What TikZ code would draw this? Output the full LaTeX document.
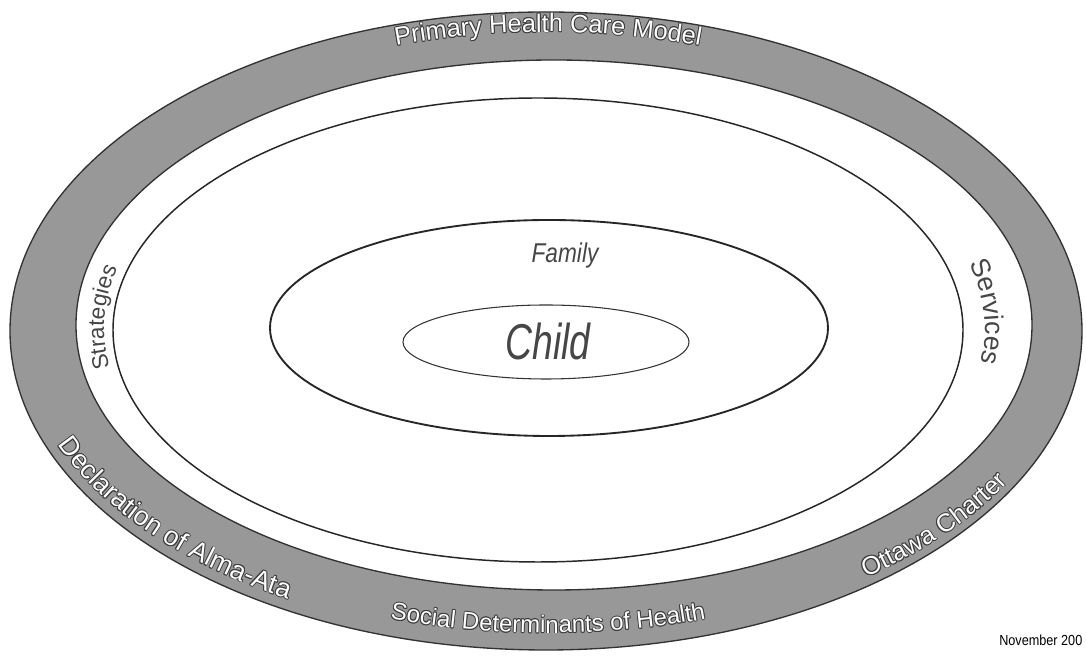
\documentclass[tikz,border=0pt]{standalone}
\usepackage{fontspec}
\setmainfont{Liberation Sans}
\usetikzlibrary{decorations.text}
\definecolor{bandgray}{RGB}{152,152,152}
\definecolor{edge}{RGB}{50,50,50}
\definecolor{outl}{RGB}{60,60,60}
\definecolor{ink}{RGB}{70,70,70}
% #1 centre, #2 rx, #3 ry, #4 start angle, #5 end angle, #6 font, #7 text
\newcommand\arclabel[7]{%
 \foreach \dx/\dy in {-0.9/0,0.9/0,0/-0.9,0/0.9,-0.65/-0.65,0.65/0.65,-0.65/0.65,0.65/-0.65}{%
  \path[shift={(\dx,\dy)},decorate,decoration={text along path,text align=center,text color=outl,text={|#6|#7}}] #1 ++(#4:#2 and #3) arc[start angle=#4,end angle=#5,x radius=#2,y radius=#3];}%
 \path[decorate,decoration={text along path,text align=center,text color=white,text={|#6|#7}}] #1 ++(#4:#2 and #3) arc[start angle=#4,end angle=#5,x radius=#2,y radius=#3];%
}
\newcommand\ringlabel[7]{%
 \path[decorate,decoration={text along path,text align=center,text color=ink,text={|#6|#7}}] #1 ++(#4:#2 and #3) arc[start angle=#4,end angle=#5,x radius=#2,y radius=#3];%
}
\begin{document}
\begin{tikzpicture}[x=0.75pt,y=0.75pt,
  bandline/.style={draw=edge,line width=1pt},
  ringline/.style={draw=black!85,line width=1.1pt},
  famline/.style={draw=black!85,line width=1.4pt},
  childline/.style={draw=black!80,line width=0.8pt},
  centretext/.style={text=ink,inner sep=0pt}]
\useasboundingbox (0,0) rectangle (1086,656);
\fill[white] (0,0) rectangle (1086,656);
% gray band
\fill[bandgray,even odd rule] (546,325) ellipse[x radius=536,y radius=319]
  (554,331) ellipse[x radius=478,y radius=265];
\draw[bandline] (546,325) ellipse[x radius=536,y radius=319];
\draw[bandline] (554,331) ellipse[x radius=478,y radius=265];
% ring line
\draw[ringline] (538,326) ellipse[x radius=425,y radius=232];
% family and child
\draw[famline] (549,328) ellipse[x radius=279,y radius=108];
\draw[childline] (546,314) ellipse[x radius=143,y radius=37];
\node[centretext,font=\fontsize{17}{17}\selectfont\itshape,yscale=1.2] (family) at (565,401) {Family};
\node[centretext,font=\fontsize{28}{28}\selectfont\itshape,yscale=1.35] (child) at (548,314) {Child};
% band labels
\arclabel{(548,326)}{506}{298}{120}{60}{\fontsize{19}{19}\selectfont}{Primary Health Care Model}
\arclabel{(548,326)}{522}{303}{240}{300}{\fontsize{18}{18}\selectfont}{Social Determinants of Health}
\arclabel{(548,326)}{528}{309}{189}{249}{\fontsize{20}{20}\selectfont}{Declaration of Alma-Ata}
\arclabel{(548,326)}{528}{310}{292}{352}{\fontsize{19}{19}\selectfont}{Ottawa Charter}
% ring labels
\ringlabel{(546,328)}{442}{244}{208}{148}{\fontsize{17}{17}\selectfont}{Strategies}
\ringlabel{(546,328)}{439}{240}{33}{-27}{\fontsize{20}{20}\selectfont}{Services}
\node[anchor=base west,inner sep=0pt,font=\fontsize{9.5}{9.5}\selectfont,yscale=1.15] (date) at (999,10) {November 200};
\end{tikzpicture}
\end{document}
